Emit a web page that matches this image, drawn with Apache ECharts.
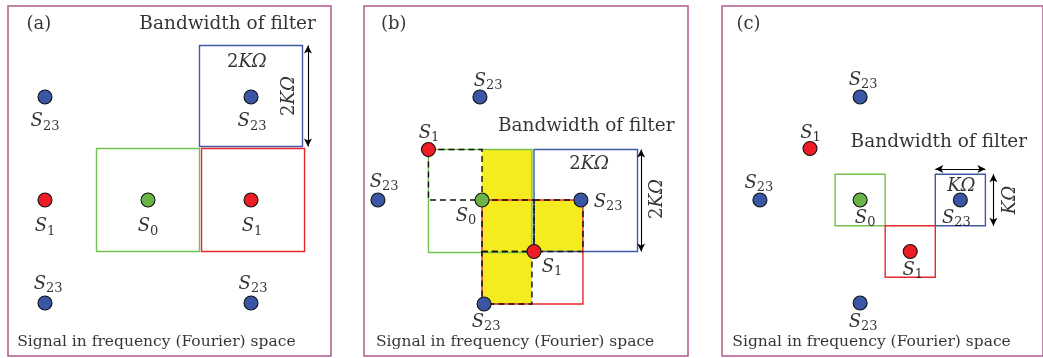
<!DOCTYPE html>
<html>
<head>
<meta charset="utf-8">
<script src="https://cdn.jsdelivr.net/npm/echarts@6/dist/echarts.min.js"></script>
<style>html,body{margin:0;padding:0;background:#fff;}#c{width:1043px;height:358px;}</style>
</head>
<body>
<div id="c"></div>
<script>
const FONT = 'DejaVu Serif';
const INK = '#000000';

// ---------- Panel (a) ----------
const aS0 = [[0, 0]];
const aS1 = [[-1, 0], [1, 0]];
const aS23 = [[-1, 1], [1, 1], [-1, -1], [1, -1]];
const aGreenBox = [[-0.5, -0.5, 0.5, 0.5]];
const aRedBox = [[0.52, -0.5, 1.52, 0.5]];
const aBlueBox = [[0.5, 0.52, 1.5, 1.5]];
const aArrows = [[1.553, 1.5, 1.553, 0.52]];
const aSymLabels = [[-1, 0.76, '23'], [1.01, 0.76, '23'], [-1, -0.26, '1'], [0, -0.26, '0'], [1.01, -0.26, '1'], [-0.97, -0.82, '23'], [1.02, -0.82, '23']];
const aSizeLabels = [[0.96, 1.34, '2KΩ']];
const aSizeLabelsV = [[1.37, 1.01, '2KΩ']];
const aTag = [[-1.18, 1.71, '(a)']];
const aTitle = [[1.63, 1.71, 'Bandwidth of filter']];
const aFoot = [[-1.27, -1.38, 'Signal in frequency (Fourier) space']];

// ---------- Panel (b) ----------
const bS0 = [[0, 0]];
const bS1 = [[-1.04, 0.98], [1.01, -1.0]];
const bS23 = [[-0.04, 2.0], [-2.02, 0], [1.92, 0], [0.04, -2.02]];
const bYellow = [[0, -2.02, 0.97, 0.98], [1.02, -1.0, 1.96, 0]];
const bGreenBox = [[-1.04, -1.02, 0.97, 0.98]];
const bBlueBox = [[1.01, -1.0, 3.02, 0.98]];
const bRedBox = [[0, -2.02, 1.96, 0]];
const bDashed = [[-1.04, 0, 0, 0.98], [0, -1.0, 1.01, 0], [1.01, -1.0, 1.96, 0], [0, -2.02, 0.97, -1.0]];
const bArrows = [[3.09, 0.98, 3.09, -1.0]];
const bSymLabels = [[0.12, 2.31, '23'], [-1.03, 1.30, '1'], [-1.90, 0.35, '23'], [-0.31, -0.31, '0'], [2.45, -0.04, '23'], [1.36, -1.30, '1'], [0.08, -2.37, '23']];
const bSizeLabels = [[2.08, 0.70, '2KΩ']];
const bSizeLabelsV = [[3.40, 0.02, '2KΩ']];
const bTag = [[-1.96, 3.42, '(b)']];
const bTitle = [[0.31, 1.44, 'Bandwidth of filter']];
const bFoot = [[-2.06, -2.76, 'Signal in frequency (Fourier) space']];

// ---------- Panel (c) ----------
const cS0 = [[0, 0]];
const cS1 = [[-1, 1], [1, -1]];
const cS23 = [[0, 2], [-2, 0], [2, 0], [0, -2]];
const cGreenBox = [[-0.5, -0.5, 0.5, 0.5]];
const cRedBox = [[0.5, -1.5, 1.5, -0.5]];
const cBlueBox = [[1.5, -0.5, 2.5, 0.5]];
const cArrows = [[1.5, 0.6, 2.5, 0.6], [2.66, 0.5, 2.66, -0.5]];
const cSymLabels = [[0.06, 2.33, '23'], [-0.99, 1.30, '1'], [-2.02, 0.33, '23'], [0.10, -0.35, '0'], [1.92, -0.35, '23'], [1.05, -1.36, '1'], [0.06, -2.37, '23']];
const cSizeLabels = [[2.02, 0.27, 'KΩ']];
const cSizeLabelsV = [[2.99, 0.0, 'KΩ']];
const cTag = [[-2.47, 3.42, '(c)']];
const cTitle = [[-0.19, 1.13, 'Bandwidth of filter']];
const cFoot = [[-2.55, -2.76, 'Signal in frequency (Fourier) space']];

// axis windows (data units)
const xRanges = [[-1.3592, 1.7767], [-2.2913, 4.0], [-2.757, 3.650]];
const yRanges = [[-1.5146, 1.8835], [-3.029, 3.767], [-3.029, 3.767]];

const C = {
  frame: '#ad5c8a', green: '#74c152', red: '#e8262e', blue: '#4259a6',
  pBlue: '#3a56a6', pRed: '#ee1c25', pGreen: '#68b545', yellow: '#f5ec20'
};

function rectSeries(gi, rects, style, z) {
  return {
    type: 'custom', xAxisIndex: gi, yAxisIndex: gi, data: rects, z: z, silent: true,
    dimensions: ['x0', 'y0', 'x1', 'y1'],
    encode: { x: [0, 2], y: [1, 3] },
    renderItem: function (params, api) {
      const p0 = api.coord([api.value(0), api.value(1)]);
      const p1 = api.coord([api.value(2), api.value(3)]);
      return {
        type: 'rect',
        shape: { x: Math.min(p0[0], p1[0]), y: Math.min(p0[1], p1[1]), width: Math.abs(p1[0] - p0[0]), height: Math.abs(p1[1] - p0[1]) },
        style: style
      };
    }
  };
}

function pointSeries(gi, pts, color) {
  return {
    type: 'scatter', xAxisIndex: gi, yAxisIndex: gi, data: pts, z: 10, silent: true,
    symbol: 'circle', symbolSize: 14,
    itemStyle: { color: color, borderColor: '#111', borderWidth: 1.1, opacity: 1 }
  };
}

function arrowSeries(gi, arrows) {
  return {
    type: 'scatter', xAxisIndex: gi, yAxisIndex: gi, data: [], z: 8, silent: true,
    markLine: {
      silent: true, animation: false,
      symbol: ['arrow', 'arrow'], symbolSize: [6, 8],
      lineStyle: { color: '#000', type: 'solid', width: 1.1 },
      label: { show: false }, emphasis: { disabled: true },
      data: arrows.map(a => [{ coord: [a[0], a[1]] }, { coord: [a[2], a[3]] }])
    }
  };
}

const richBase = {
  s: { fontFamily: FONT, fontStyle: 'italic', fontSize: 18, color: INK, lineHeight: 22 },
  sub: { fontFamily: FONT, fontSize: 13, color: INK, lineHeight: 10, verticalAlign: 'bottom' },
  n: { fontFamily: FONT, fontSize: 18, color: INK, lineHeight: 22 },
  i: { fontFamily: FONT, fontStyle: 'italic', fontSize: 18, color: INK, lineHeight: 22 }
};

function textSeries(gi, items, opts) {
  return {
    type: 'scatter', xAxisIndex: gi, yAxisIndex: gi, z: 12, silent: true,
    symbol: 'circle', symbolSize: 1, itemStyle: { color: 'rgba(0,0,0,0)' },
    data: items.map(t => ({ value: [t[0], t[1]], name: t[2] })),
    label: Object.assign({
      show: true, position: 'inside', align: 'center', verticalAlign: 'middle',
      fontFamily: FONT, color: INK, fontSize: 18, rich: richBase,
      formatter: p => p.name
    }, opts || {})
  };
}

function symLabel(p) { return '{s|S}{sub|' + p.name + '}'; }
function sizeLabel(p) {
  const t = p.name;
  return t.charAt(0) === '2' ? '{n|2}{i|' + t.slice(1) + '}' : '{i|' + t + '}';
}

function panelSeries(gi, d) {
  const thin = 1.4;
  const s = [];
  if (d.yellow) s.push(rectSeries(gi, d.yellow, { fill: C.yellow, stroke: null }, 1));
  s.push(rectSeries(gi, d.green, { fill: 'none', stroke: C.green, lineWidth: thin }, 2));
  s.push(rectSeries(gi, d.blue, { fill: 'none', stroke: C.blue, lineWidth: thin }, 2));
  s.push(rectSeries(gi, d.red, { fill: 'none', stroke: C.red, lineWidth: thin }, 3));
  if (d.dashed) s.push(rectSeries(gi, d.dashed, { fill: 'none', stroke: '#111', lineWidth: 1.4, lineDash: [6, 4] }, 4));
  s.push(arrowSeries(gi, d.arrows));
  s.push(pointSeries(gi, d.s23, C.pBlue));
  s.push(pointSeries(gi, d.s1, C.pRed));
  s.push(pointSeries(gi, d.s0, C.pGreen));
  s.push(textSeries(gi, d.symLabels, { formatter: symLabel }));
  s.push(textSeries(gi, d.sizeLabels, { formatter: sizeLabel }));
  s.push(textSeries(gi, d.sizeLabelsV, { formatter: sizeLabel, rotate: 90 }));
  s.push(textSeries(gi, d.tag, { align: 'left', fontSize: 18 }));
  s.push(textSeries(gi, d.title, { align: d.titleAlign, fontSize: 18.5 }));
  s.push(textSeries(gi, d.foot, { align: 'left', fontSize: 15.5 }));
  return s;
}

const series = [].concat(
  panelSeries(0, { green: aGreenBox, red: aRedBox, blue: aBlueBox, arrows: aArrows, s0: aS0, s1: aS1, s23: aS23,
    symLabels: aSymLabels, sizeLabels: aSizeLabels, sizeLabelsV: aSizeLabelsV, tag: aTag, title: aTitle, titleAlign: 'right', foot: aFoot }),
  panelSeries(1, { yellow: bYellow, dashed: bDashed, green: bGreenBox, red: bRedBox, blue: bBlueBox, arrows: bArrows, s0: bS0, s1: bS1, s23: bS23,
    symLabels: bSymLabels, sizeLabels: bSizeLabels, sizeLabelsV: bSizeLabelsV, tag: bTag, title: bTitle, titleAlign: 'left', foot: bFoot }),
  panelSeries(2, { green: cGreenBox, red: cRedBox, blue: cBlueBox, arrows: cArrows, s0: cS0, s1: cS1, s23: cS23,
    symLabels: cSymLabels, sizeLabels: cSizeLabels, sizeLabelsV: cSizeLabelsV, tag: cTag, title: cTitle, titleAlign: 'left', foot: cFoot })
);

const gridBase = { show: true, borderColor: C.frame, borderWidth: 1.5, backgroundColor: '#fff', containLabel: false };
const option = {
  animation: false,
  backgroundColor: '#fff',
  grid: [
    Object.assign({ left: 8, top: 6, width: 323, height: 350 }, gridBase),
    Object.assign({ left: 364, top: 6, width: 324, height: 350 }, gridBase),
    Object.assign({ left: 722, top: 6, width: 330, height: 350 }, gridBase)
  ],
  xAxis: xRanges.map((r, i) => ({ gridIndex: i, type: 'value', min: r[0], max: r[1], show: false })),
  yAxis: yRanges.map((r, i) => ({ gridIndex: i, type: 'value', min: r[0], max: r[1], show: false })),
  series: series
};

const chart = echarts.init(document.getElementById('c'), null, { renderer: 'canvas' });
chart.setOption(option);
</script>
</body>
</html>
